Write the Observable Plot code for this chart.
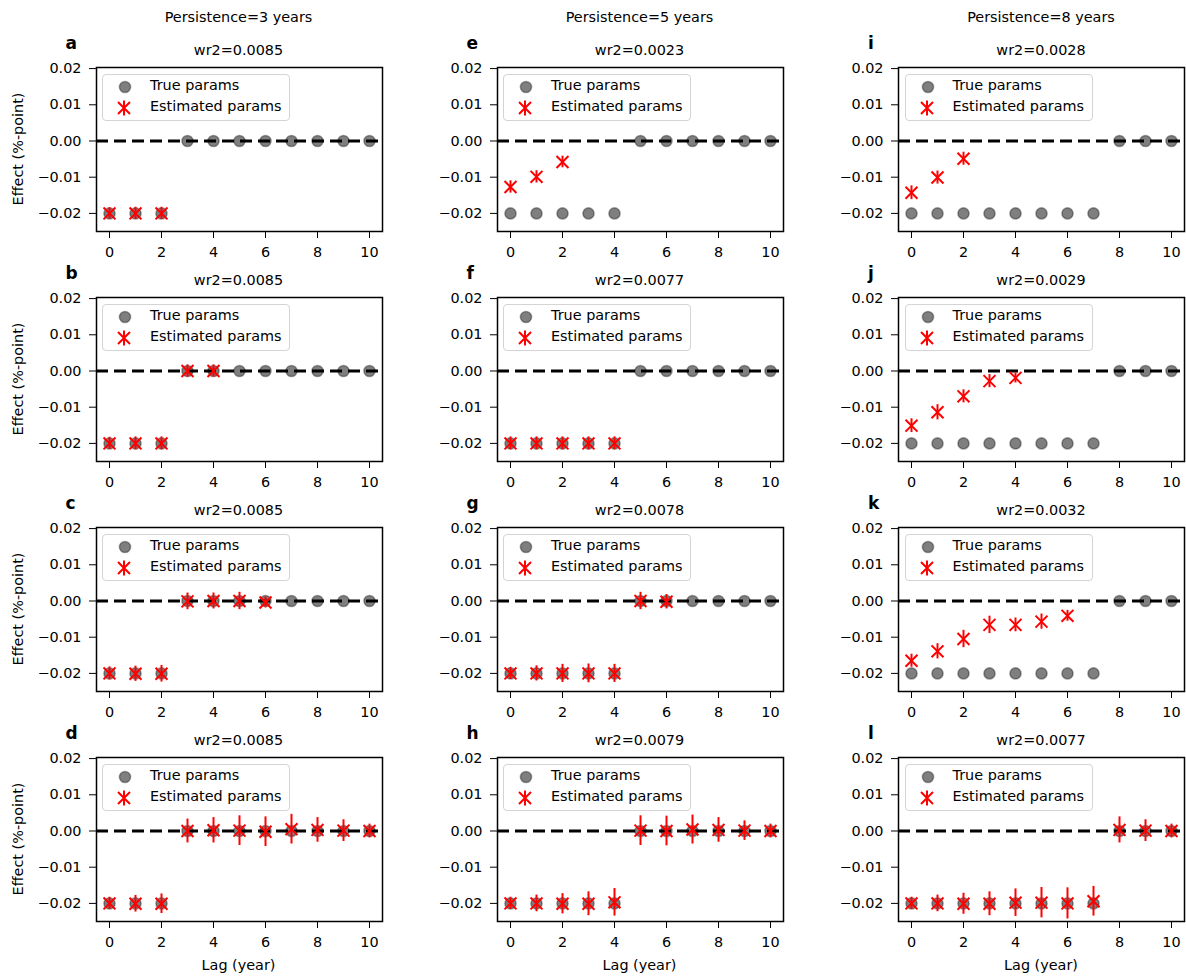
<!DOCTYPE html>
<html>
<head>
<meta charset="utf-8">
<script src="https://cdn.jsdelivr.net/npm/d3@7"></script>
<script src="https://cdn.jsdelivr.net/npm/@observablehq/plot@0.6"></script>
<style>
  html, body { margin: 0; padding: 0; background: #fff; }
  #fig { position: relative; width: 1186px; height: 976px; font-family: "DejaVu Sans", sans-serif; color: #000; overflow: hidden; }
  .abs { position: absolute; white-space: nowrap; line-height: 1.164; }
  .lbl { font-size: 14.4px; transform: translate(-50%, -50%); }
  .letter { font-size: 17px; font-weight: bold; transform: translate(0, -50%); }
  .ylab { font-size: 14.4px; transform: translate(-50%, -50%) rotate(-90deg); }
  .legend { position: absolute; box-sizing: border-box; width: 188px; height: 46.5px; border: 1px solid #d4d4d4; border-radius: 4px; background: rgba(255,255,255,0.8); }
  .legend span { position: absolute; left: 40px; font-size: 14.4px; line-height: 1.164; white-space: nowrap; }
  .legend svg { position: absolute; left: 0; top: 0; }
</style>
</head>
<body>
<div id="fig"></div>
<script>
// ---------------- data ----------------
const lags = [0, 1, 2, 3, 4, 5, 6, 7, 8, 9, 10];
const xTicks = [0, 2, 4, 6, 8, 10];
const yTicks = [-0.02, -0.01, 0, 0.01, 0.02];
const persistenceTitles = ["Persistence=3 years", "Persistence=5 years", "Persistence=8 years"];
const panelLetters = ["a", "b", "c", "d", "e", "f", "g", "h", "i", "j", "k", "l"];
const wr2Labels = ["wr2=0.0085", "wr2=0.0085", "wr2=0.0085", "wr2=0.0085",
                   "wr2=0.0023", "wr2=0.0077", "wr2=0.0078", "wr2=0.0079",
                   "wr2=0.0028", "wr2=0.0029", "wr2=0.0032", "wr2=0.0077"];

// true parameters per persistence column
const trueP3 = [-0.02, -0.02, -0.02, 0, 0, 0, 0, 0, 0, 0, 0];
const trueP5 = [-0.02, -0.02, -0.02, -0.02, -0.02, 0, 0, 0, 0, 0, 0];
const trueP8 = [-0.02, -0.02, -0.02, -0.02, -0.02, -0.02, -0.02, -0.02, 0, 0, 0];

// estimated parameters (one entry per estimated lag, starting at lag 0) and their error half-widths
const estA = [-0.0200, -0.0200, -0.0200];
const errA = [0.0016, 0.0017, 0.0017];
const estB = [-0.0200, -0.0200, -0.0200, 0.0000, 0.0000];
const errB = [0.0017, 0.0018, 0.0018, 0.0017, 0.0017];
const estC = [-0.0200, -0.0201, -0.0201, -0.0001, 0.0000, 0.0000, -0.0004];
const errC = [0.0018, 0.0021, 0.0023, 0.0023, 0.0022, 0.0024, 0.0015];
const estD = [-0.0200, -0.0201, -0.0201, 0.0000, 0.0002, 0.0001, -0.0002, 0.0005, 0.0003, 0.0001, 0.0000];
const errD = [0.0017, 0.0023, 0.0027, 0.0033, 0.0035, 0.0041, 0.0041, 0.0041, 0.0034, 0.0030, 0.0019];
const estE = [-0.0127, -0.0099, -0.0058];
const errE = [0.0017, 0.0017, 0.0016];
const estF = [-0.0200, -0.0200, -0.0200, -0.0200, -0.0200];
const errF = [0.0018, 0.0018, 0.0018, 0.0018, 0.0018];
const estG = [-0.0200, -0.0200, -0.0200, -0.0200, -0.0200, 0.0000, -0.0002];
const errG = [0.0017, 0.0021, 0.0025, 0.0026, 0.0025, 0.0024, 0.0020];
const estH = [-0.0200, -0.0200, -0.0201, -0.0201, -0.0197, 0.0001, 0.0000, 0.0004, 0.0003, 0.0001, 0.0000];
const errH = [0.0017, 0.0023, 0.0028, 0.0033, 0.0038, 0.0041, 0.0041, 0.0040, 0.0034, 0.0027, 0.0019];
const estI = [-0.0143, -0.0101, -0.0049];
const errI = [0.0019, 0.0018, 0.0018];
const estJ = [-0.0151, -0.0114, -0.0070, -0.0028, -0.0019];
const errJ = [0.0019, 0.0021, 0.0018, 0.0018, 0.0014];
const estK = [-0.0165, -0.0139, -0.0105, -0.0066, -0.0066, -0.0057, -0.0041];
const errK = [0.0018, 0.0021, 0.0024, 0.0024, 0.0019, 0.0021, 0.0015];
const estL = [-0.0200, -0.0200, -0.0201, -0.0201, -0.0198, -0.0198, -0.0200, -0.0194, 0.0003, 0.0001, 0.0000];
const errL = [0.0017, 0.0023, 0.0029, 0.0033, 0.0038, 0.0042, 0.0043, 0.0041, 0.0036, 0.0030, 0.0019];

// ---------------- layout ----------------
const trueByCol = [trueP3, trueP5, trueP8];
const estimates = [estA, estB, estC, estD, estE, estF, estG, estH, estI, estJ, estK, estL];
const errors = [errA, errB, errC, errD, errE, errF, errG, errH, errI, errJ, errK, errL];

const colLeft = [95.5, 496.5, 898];
const rowTop = [66.7, 296.7, 526.7, 756.7];
const axW = 286, axH = 164;
const fig = document.getElementById("fig");

const fmtY = d => (d < 0 ? "\u2212" : "") + Math.abs(d).toFixed(2);

function addDiv(cls, text, x, y) {
  const el = document.createElement("div");
  el.className = "abs " + cls;
  el.textContent = text;
  el.style.left = x + "px";
  el.style.top = y + "px";
  fig.appendChild(el);
  return el;
}

for (let c = 0; c < 3; c++) {
  addDiv("lbl", persistenceTitles[c], colLeft[c] + axW / 2, 16.5);
  for (let r = 0; r < 4; r++) {
    const idx = c * 4 + r;
    const ml = 70, mr = 3, mt = 3, mb = 34;
    const trueData = lags.map((lag, i) => ({lag, v: trueByCol[c][i]}));
    const estData = estimates[idx].map((v, i) => ({lag: lags[i], v, e: errors[idx][i]}));
    const chart = Plot.plot({
      width: axW + ml + mr,
      height: axH + mt + mb,
      marginLeft: ml, marginRight: mr, marginTop: mt, marginBottom: mb,
      style: {fontFamily: "DejaVu Sans", fontSize: "14.4px", color: "#000", background: "transparent", overflow: "visible"},
      x: {domain: [-0.5, 10.5], ticks: xTicks, tickFormat: d => String(d), tickSize: 7, tickPadding: 8, label: null},
      y: {domain: [-0.0250, 0.0203], ticks: yTicks, tickFormat: fmtY, tickSize: 7, tickPadding: 8, label: null},
      marks: [
        Plot.ruleY([0], {stroke: "black", strokeWidth: 3, strokeDasharray: "12,6"}),
        Plot.dot(trueData, {x: "lag", y: "v", r: 5.6, fill: "black", fillOpacity: 0.5, stroke: "black", strokeOpacity: 0.35, strokeWidth: 1.5}),
        Plot.ruleX(estData, {x: "lag", y1: d => d.v - d.e, y2: d => d.v + d.e, stroke: "red", strokeWidth: 2}),
        Plot.dot(estData, {x: "lag", y: "v", symbol: "times", r: 5.5, stroke: "red", strokeWidth: 2}),
        Plot.frame({stroke: "black", strokeWidth: 1.5})
      ]
    });
    chart.style.position = "absolute";
    chart.style.left = (colLeft[c] - ml) + "px";
    chart.style.top = (rowTop[r] - mt) + "px";
    chart.style.maxWidth = "none";
    fig.appendChild(chart);

    // panel letter and title
    addDiv("letter", panelLetters[idx], colLeft[c] - 30, rowTop[r] - 22.6);
    addDiv("lbl", wr2Labels[idx], colLeft[c] + axW / 2, rowTop[r] - 16.7);

    // legend
    const lg = document.createElement("div");
    lg.className = "legend";
    lg.style.left = (colLeft[c] + 6.5) + "px";
    lg.style.top = (rowTop[r] + 7.3) + "px";
    lg.innerHTML =
      '<svg width="40" height="46">' +
      '<circle cx="22" cy="12" r="5.6" fill="black" fill-opacity="0.5" stroke="black" stroke-opacity="0.35" stroke-width="1.5"></circle>' +
      '<line x1="21" x2="21" y1="25.5" y2="40.5" stroke="red" stroke-width="2"></line>' +
      '<path d="M15,27 L27,39 M27,27 L15,39" stroke="red" stroke-width="2" fill="none"></path>' +
      '</svg>' +
      '<span style="top:2.1px;left:47px">True params</span>' +
      '<span style="top:23.4px;left:47px">Estimated params</span>';
    fig.appendChild(lg);

    if (c === 0) addDiv("ylab", "Effect (%-point)", 17.5, rowTop[r] + axH / 2);
    if (r === 3) addDiv("lbl", "Lag (year)", colLeft[c] + axW / 2, 964.5);
  }
}
</script>
</body>
</html>
